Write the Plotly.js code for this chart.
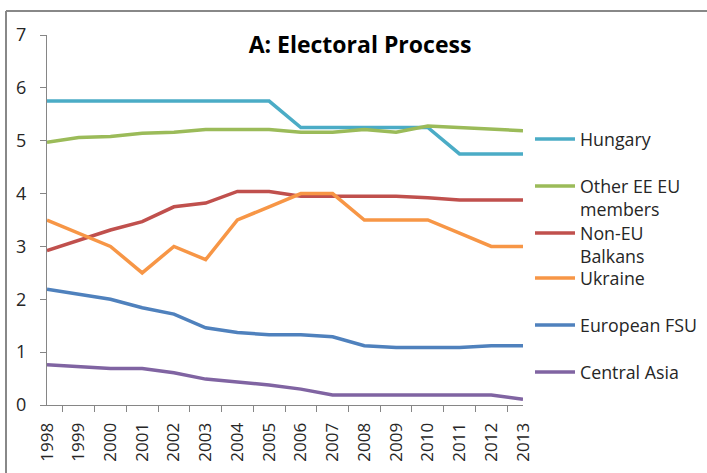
<!DOCTYPE html>
<html>
<head>
<meta charset="utf-8">
<script src="https://cdn.plot.ly/plotly-3.0.1.min.js"></script>
<style>html,body{margin:0;padding:0;background:#fff;}#chart{width:707px;height:473px;}</style>
</head>
<body>
<div id="chart"></div>
<script>
var years = ["1998","1999","2000","2001","2002","2003","2004","2005","2006","2007","2008","2009","2010","2011","2012","2013"];
var seriesNames = ["Hungary","Other EE EU<br>members","Non-EU<br>Balkans","Ukraine","European FSU","Central Asia"];
var hungary = [5.75,5.75,5.75,5.75,5.75,5.75,5.75,5.75,5.25,5.25,5.25,5.25,5.25,4.75,4.75,4.75];
var otherEEEU = [4.97,5.06,5.08,5.14,5.16,5.21,5.21,5.21,5.16,5.16,5.21,5.16,5.28,5.25,5.21,5.19];
var nonEUBalkans = [2.92,3.12,3.31,3.47,3.75,3.82,4.04,4.04,3.95,3.95,3.95,3.95,3.92,3.88,3.88,3.88];
var ukraine = [3.5,3.25,3.0,2.5,3.0,2.75,3.5,3.75,4.0,4.0,3.5,3.5,3.5,3.25,3.0,3.0];
var europeanFSU = [2.19,2.09,2.0,1.84,1.72,1.46,1.37,1.33,1.33,1.29,1.12,1.09,1.09,1.09,1.12,1.12];
var centralAsia = [0.76,0.72,0.69,0.69,0.61,0.49,0.43,0.38,0.30,0.19,0.19,0.19,0.19,0.19,0.19,0.11];
var colors = ["#4BACC6","#9BBB59","#C0504D","#F79646","#4F81BD","#8064A2"];

var allSeries = [hungary, otherEEEU, nonEUBalkans, ukraine, europeanFSU, centralAsia];
var legendIds = ["legend","legend2","legend3","legend4","legend5","legend6"];
var legendCenters = [138,185,232,277,324,371]; // pixel y of first text line

var plotL = 47, plotR = 523, plotT = 35, plotB = 405;
var W = 707, H = 473;
var pw = plotR - plotL, ph = plotB - plotT;
function px2x(p){ return (p - plotL)/pw; }
function py2y(p){ return (plotB - p)/ph; }

var font = "'Open Sans', sans-serif";
var traces = allSeries.map(function(s, i){
  return {
    x: years, y: s, type: "scatter", mode: "lines", name: seriesNames[i],
    line: {color: colors[i], width: 3.5},
    legend: legendIds[i], showlegend: true, hoverinfo: "skip"
  };
});

var layout = {
  width: W, height: H,
  margin: {l: plotL, r: W - plotR, t: plotT, b: H - plotB},
  paper_bgcolor: "#fff", plot_bgcolor: "#fff",
  font: {family: font, color: "#262626", size: 16},
  title: {text: "<b>A: Electoral Process</b>", font: {family: font, size: 23, color: "#000"},
          x: px2x(360), xref: "paper", xanchor: "center", y: 1 - 45/H, yref: "container", yanchor: "middle"},
  xaxis: {
    type: "category", tickson: "boundaries", ticks: "outside", ticklen: 6, tickcolor: "#868686",
    showline: true, linecolor: "#868686", linewidth: 1, showgrid: false, zeroline: false,
    tickangle: -90, ticklabelstandoff: 10, tickfont: {family: font, size: 17, color: "#262626"}, fixedrange: true
  },
  yaxis: {
    range: [0, 7], dtick: 1, ticks: "outside", ticklen: 6, tickcolor: "#868686",
    showline: true, linecolor: "#868686", linewidth: 1, showgrid: false, zeroline: false,
    ticklabelstandoff: 10, tickfont: {family: font, size: 18, color: "#262626"}, fixedrange: true
  },
  shapes: [
    {type: "line", xref: "paper", yref: "paper", x0: px2x(6), x1: px2x(707), y0: py2y(11), y1: py2y(11), line: {color: "#888", width: 2}},
    {type: "line", xref: "paper", yref: "paper", x0: px2x(6), x1: px2x(6), y0: py2y(11), y1: py2y(473), line: {color: "#888", width: 2}}
  ]
};
legendIds.forEach(function(id, i){
  layout[id] = {
    x: 530 / W, xref: "container", xanchor: "left",
    y: 1 - (legendCenters[i] - 17) / H, yref: "container", yanchor: "top",
    orientation: "v",
    bgcolor: "rgba(0,0,0,0)", borderwidth: 0, valign: "top", itemwidth: 40,
    font: {family: font, size: 17.8, color: "#262626"}, itemclick: false, itemdoubleclick: false
  };
});
Plotly.newPlot("chart", traces, layout, {displayModeBar: false, staticPlot: true});
</script>
</body>
</html>
